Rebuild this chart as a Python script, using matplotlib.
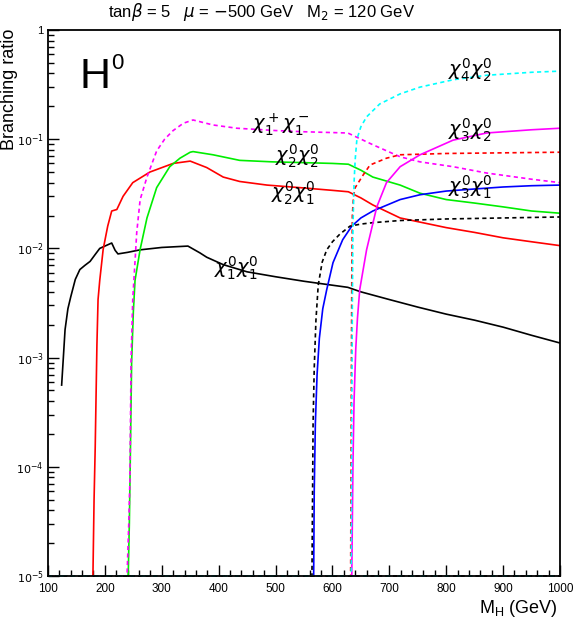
import numpy as np
import matplotlib
matplotlib.use("Agg")
import matplotlib.pyplot as plt

plt.rcParams['font.family'] = ['Liberation Sans', 'DejaVu Sans']
plt.rcParams['mathtext.fontset'] = 'dejavusans'

# Branching ratios of H0 -> chargino / neutralino pairs
# chi1^0 chi1^0 (black solid)
m_11 = [124, 127, 130, 135, 140, 148, 156, 165, 174, 183, 191, 200, 212, 218, 223, 240, 262, 300,
        346, 367, 379, 408, 450, 500, 550, 600, 627, 650, 700, 750, 800, 850, 900, 950, 1000]
br_11 = [5.6e-4, 1.0e-3, 1.8e-3, 2.8e-3, 3.6e-3, 5.2e-3, 6.4e-3, 7.0e-3, 7.6e-3, 8.8e-3, 1.0e-2,
         1.05e-2, 1.12e-2, 9.6e-3, 8.9e-3, 9.2e-3, 9.7e-3, 1.02e-2, 1.05e-2, 9.1e-3, 8.3e-3, 7.1e-3,
         6.1e-3, 5.5e-3, 5.0e-3, 4.6e-3, 4.4e-3, 4.0e-3, 3.4e-3, 2.9e-3, 2.5e-3, 2.2e-3, 1.9e-3,
         1.6e-3, 1.36e-3]

# chi2^0 chi1^0 (red solid)
m_21 = [179, 181, 183, 186, 188, 191, 197, 205, 212, 221, 232, 249, 279, 320, 350, 379, 408, 437,
        485, 543, 600, 628, 650, 671, 719, 800, 850, 900, 950, 1000]
br_21 = [1e-5, 5e-5, 1.5e-4, 1.3e-3, 3.4e-3, 5.1e-3, 9.8e-3, 1.6e-2, 2.2e-2, 2.27e-2, 3.0e-2,
         4.0e-2, 5.0e-2, 6.0e-2, 6.3e-2, 5.5e-2, 4.5e-2, 4.1e-2, 3.8e-2, 3.6e-2, 3.4e-2, 3.3e-2,
         2.9e-2, 2.5e-2, 1.9e-2, 1.55e-2, 1.4e-2, 1.25e-2, 1.15e-2, 1.06e-2]

# chi2^0 chi2^0 (green solid)
m_22 = [241, 243, 245, 247, 250, 253, 262, 274, 291, 314, 332, 350, 355, 390, 437, 495, 550, 600,
        628, 650, 671, 719, 754, 800, 850, 900, 950, 1000]
br_22 = [1e-5, 3e-5, 1.5e-4, 9e-4, 2.6e-3, 5.1e-3, 9.8e-3, 1.9e-2, 3.6e-2, 5.6e-2, 6.7e-2, 7.6e-2,
         7.7e-2, 7.2e-2, 6.4e-2, 6.2e-2, 6.1e-2, 6.0e-2, 5.9e-2, 5.2e-2, 4.5e-2, 3.8e-2, 3.2e-2,
         2.8e-2, 2.6e-2, 2.4e-2, 2.2e-2, 2.1e-2]

# chi1^+ chi1^- (magenta dashed)
m_cc = [100, 239, 242, 244, 246, 249, 256, 262, 274, 291, 305, 320, 338, 355, 390, 432, 500, 550,
        600, 627, 671, 719, 754, 812, 871, 950, 1000]
br_cc = [1e-5, 1e-5, 3e-5, 7.5e-5, 9e-4, 3.4e-3, 1.4e-2, 2.8e-2, 4.5e-2, 7.8e-2, 1.0e-1, 1.2e-1,
         1.4e-1, 1.5e-1, 1.35e-1, 1.26e-1, 1.2e-1, 1.17e-1, 1.15e-1, 1.14e-1, 8.9e-2, 6.9e-2,
         6.2e-2, 5.6e-2, 4.9e-2, 4.3e-2, 4.0e-2]

# chi3^0 chi1^0 (blue solid)
m_31 = [567, 568, 570, 573, 577, 583, 590, 601, 618, 634, 650, 671, 719, 754, 800, 850, 900, 950, 1000]
br_31 = [1e-5, 6e-5, 2.5e-4, 7e-4, 1.5e-3, 2.8e-3, 4.2e-3, 7.4e-3, 1.2e-2, 1.6e-2, 1.9e-2, 2.2e-2,
         2.8e-2, 3.1e-2, 3.35e-2, 3.5e-2, 3.65e-2, 3.75e-2, 3.8e-2]

# black dashed (unlabelled)
m_bd = [100, 564, 565, 566, 568, 571, 575, 582, 590, 600, 613, 631, 650, 671, 719, 800, 900, 1000]
br_bd = [1e-5, 1e-5, 5e-5, 2.5e-4, 8e-4, 2.2e-3, 4.6e-3, 7.5e-3, 9.7e-3, 1.15e-2, 1.35e-2, 1.6e-2,
         1.67e-2, 1.72e-2, 1.8e-2, 1.86e-2, 1.9e-2, 1.94e-2]

# red dashed (unlabelled)
m_rd = [100, 632, 633, 634, 635, 637, 640, 654, 666, 695, 719, 800, 900, 1000]
br_rd = [1e-5, 1e-5, 3e-4, 5e-3, 2e-2, 3e-2, 3.6e-2, 4.7e-2, 5.8e-2, 6.7e-2, 7.2e-2, 7.4e-2,
         7.5e-2, 7.6e-2]

# chi3^0 chi2^0 (magenta solid)
m_32 = [634, 636, 638, 641, 644, 648, 660, 678, 695, 719, 754, 812, 871, 950, 1000]
br_32 = [1e-5, 1e-4, 4e-4, 1.2e-3, 2.3e-3, 4.2e-3, 9.7e-3, 2.4e-2, 4.0e-2, 5.6e-2, 7.2e-2, 9.8e-2,
         1.14e-1, 1.22e-1, 1.26e-1]

# chi4^0 chi2^0 (cyan dashed)
m_42 = [100, 633, 634, 635, 636, 638, 640, 643, 650, 660, 683, 719, 754, 812, 871, 950, 1000]
br_42 = [1e-5, 1e-5, 3e-4, 3e-3, 1.5e-2, 4e-2, 6.5e-2, 1.0e-1, 1.3e-1, 1.6e-1, 2.1e-1, 2.6e-1,
         3.0e-1, 3.5e-1, 3.85e-1, 4.1e-1, 4.2e-1]

x_ticks = [100, 200, 300, 400, 500, 600, 700, 800, 900, 1000]
y_ticks = [1e-5, 1e-4, 1e-3, 1e-2, 1e-1, 1]
y_ticklabels = [r'$10^{-5}$', r'$10^{-4}$', r'$10^{-3}$', r'$10^{-2}$', r'$10^{-1}$', '1']

fig = plt.figure(figsize=(5.74, 6.29), dpi=100)
ax = fig.add_axes([0.0836, 0.0843, 0.892, 0.868])

lw = 1.2
dsh = (2.5, 2.0)
ax.axhline(1e-5, color='black', lw=lw, dashes=dsh, clip_on=False)
ax.axhline(1e-5, color='cyan', lw=lw, dashes=(2.5, 2.0, 0.0, 2.5), clip_on=False)

ax.plot(m_11, br_11, color='black', lw=lw)
ax.plot(m_21, br_21, color='red', lw=lw)
ax.plot(m_22, br_22, color='#00ee00', lw=lw)
ax.plot(m_cc, br_cc, color='magenta', lw=lw, dashes=dsh)
ax.plot(m_31, br_31, color='blue', lw=lw)
ax.plot(m_bd, br_bd, color='black', lw=lw, dashes=dsh)
ax.plot(m_rd, br_rd, color='red', lw=lw, dashes=dsh)
ax.plot(m_32, br_32, color='magenta', lw=lw)
ax.plot(m_42, br_42, color='cyan', lw=lw, dashes=dsh)

ax.set_yscale('log')
ax.set_xlim(100, 1000)
ax.set_ylim(1e-5, 1)
ax.set_xticks(x_ticks)
ax.set_xticks(np.arange(100, 1001, 20), minor=True)
ax.set_yticks(y_ticks)
ax.set_yticklabels(y_ticklabels)
ax.yaxis.set_minor_locator(matplotlib.ticker.LogLocator(base=10, subs=np.arange(2, 10)))
ax.yaxis.set_minor_formatter(matplotlib.ticker.NullFormatter())
ax.tick_params(which='both', direction='in', top=False, right=False, labelsize=8.5, width=1)
ax.tick_params(axis='y', labelsize=8)
ax.tick_params(which='major', length=8)
ax.tick_params(which='minor', length=4)
ax.tick_params(axis='y', pad=3)
ax.tick_params(axis='x', pad=5)
for s in ax.spines.values():
    s.set_linewidth(1.3)

# curve labels
fs = 14
ax.text(509, 0.135, r'$\chi^+_1\chi^-_1$', fontsize=fs, ha='center', va='center')
ax.text(538, 0.069, r'$\chi^0_2\chi^0_2$', fontsize=fs, ha='center', va='center')
ax.text(531, 0.032, r'$\chi^0_2\chi^0_1$', fontsize=fs, ha='center', va='center')
ax.text(432, 0.0066, r'$\chi^0_1\chi^0_1$', fontsize=fs, ha='center', va='center')
ax.text(842, 0.43, r'$\chi^0_4\chi^0_2$', fontsize=fs, ha='center', va='center')
ax.text(842, 0.12, r'$\chi^0_3\chi^0_2$', fontsize=fs, ha='center', va='center')
ax.text(842, 0.036, r'$\chi^0_3\chi^0_1$', fontsize=fs, ha='center', va='center')

ax.text(0.0625, 0.894, 'H', fontsize=31, transform=ax.transAxes, ha='left', va='baseline')
ax.text(0.124, 0.928, '0', fontsize=16, transform=ax.transAxes, ha='left', va='baseline')

fig.text(0.456, 0.981, r'tan$\beta$ = 5   $\mu$ = $-$500 GeV   M$_2$ = 120 GeV',
         fontsize=12, ha='center', va='center')
fig.text(0.016, 0.955, 'Branching ratio', fontsize=13, rotation=90, ha='center', va='top')
fig.text(0.972, 0.032, r'M$_\mathregular{H}$ (GeV)', fontsize=13, ha='right', va='center')

fig.savefig('out.png', dpi=100)
